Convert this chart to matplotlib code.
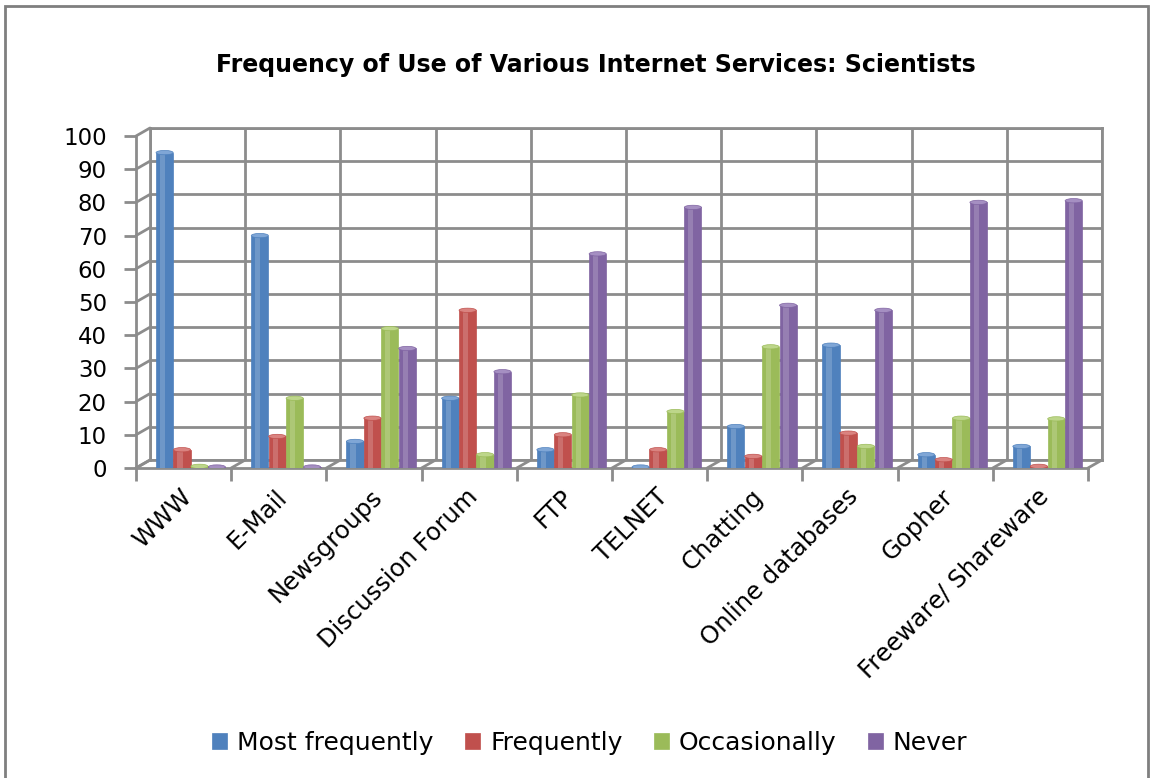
import matplotlib.pyplot as plt
import numpy as np
from matplotlib.patches import ConnectionPatch, Ellipse, Rectangle

categories = ['WWW', 'E-Mail', 'Newsgroups', 'Discussion Forum', 'FTP', 'TELNET',
              'Chatting', 'Online databases', 'Gopher', 'Freeware/ Shareware']
series = ['Most frequently', 'Frequently', 'Occasionally', 'Never']
most_frequently = [95, 70, 8, 21, 5.5, 0.3, 12.5, 37, 4, 6.5]
frequently = [5.5, 9.5, 15, 47.5, 10, 5.5, 3.5, 10.5, 2.5, 0.5]
occasionally = [0.5, 21, 42, 4, 22, 17, 36.5, 6.5, 15, 14.8]
never = [0.3, 0.3, 36, 29, 64.5, 78.5, 49, 47.5, 80, 80.5]
values = [most_frequently, frequently, occasionally, never]
colors = ['#4F81BD', '#C0504D', '#9BBB59', '#8064A2']
tops = ['#7FA6D6', '#DA8380', '#BDD68A', '#A58FC2']

plt.rcParams['font.family'] = ['DejaVu Sans']
W, H = 1152, 778
fig = plt.figure(figsize=(W / 100, H / 100), dpi=100)
grid_c = '#8C8C8C'

# outer frame of the chart
fig.patches.append(Rectangle((5 / W, -0.02), 1143 / W, 1 - 6 / H + 0.02,
                             transform=fig.transFigure, fill=False,
                             ec='#7F7F7F', lw=2))

# back wall (offset up/right to fake depth)
back = fig.add_axes([150 / W, (H - 460) / H, 952 / W, 332 / H])
back.set_xlim(0, 10)
back.set_ylim(0, 100)
back.set_xticks(np.arange(0, 11))
back.set_yticks(np.arange(0, 101, 10))
back.grid(True, color=grid_c, lw=2)
back.tick_params(length=0, labelleft=False, labelbottom=False)
for s in back.spines.values():
    s.set_color(grid_c)
    s.set_linewidth(2)

# front axes with bars
ax = fig.add_axes([136 / W, (H - 468) / H, 952 / W, 332 / H])
ax.patch.set_alpha(0)
ax.set_xlim(0, 10)
ax.set_ylim(0, 100)
for k in ['top', 'right']:
    ax.spines[k].set_visible(False)
for k in ['left', 'bottom']:
    ax.spines[k].set_color(grid_c)
    ax.spines[k].set_linewidth(2)

# side wall and floor connectors
for v in range(0, 101, 10):
    fig.add_artist(ConnectionPatch((0, v), (0, v), ax.transData, back.transData,
                                   color=grid_c, lw=2))
for i in range(11):
    fig.add_artist(ConnectionPatch((i, 0), (i, 0), ax.transData, back.transData,
                                   color=grid_c, lw=2))

x = np.arange(len(categories))
w = 0.18
handles = []
for j, (vals, c, tc) in enumerate(zip(values, colors, tops)):
    pos = x + 0.5 + 0.075 + (j - 1.5) * 0.183
    b = ax.bar(pos, vals, width=w, color=c, edgecolor=c, lw=0.5, zorder=3,
               label=series[j])
    handles.append(b)
    ax.bar(pos - w * 0.12, vals, width=w * 0.3, color='white', alpha=0.18,
           lw=0, zorder=4)
    for p, v in zip(pos, vals):
        ax.add_patch(Ellipse((p, v), w, 1.3, color=tc, ec=c, lw=0.5, zorder=5))

ax.set_yticks(np.arange(0, 101, 10))
ax.set_xticks(np.arange(0, 11))
ax.set_xticklabels([])
ax.tick_params(axis='y', labelsize=16.5, length=9, width=2, color=grid_c, pad=12)
ax.tick_params(axis='x', length=9, width=2, color=grid_c)
for i, name in enumerate(categories):
    ax.text(i + 0.46, -5, name, rotation=45, ha='right', va='top',
            rotation_mode='anchor', fontsize=17.5)

fig.text(0.517, 1 - 65 / H, 'Frequency of Use of Various Internet Services: Scientists',
         ha='center', va='center', fontsize=17, fontweight='bold')

fig.legend(handles=handles, labels=series, loc='center', ncol=4,
           bbox_to_anchor=(0.512, 1 - 743 / H), frameon=False, fontsize=18,
           handlelength=0.6, handleheight=0.6, handletextpad=0.4,
           columnspacing=1.25)

fig.savefig('out.png', dpi=100, facecolor='white')
